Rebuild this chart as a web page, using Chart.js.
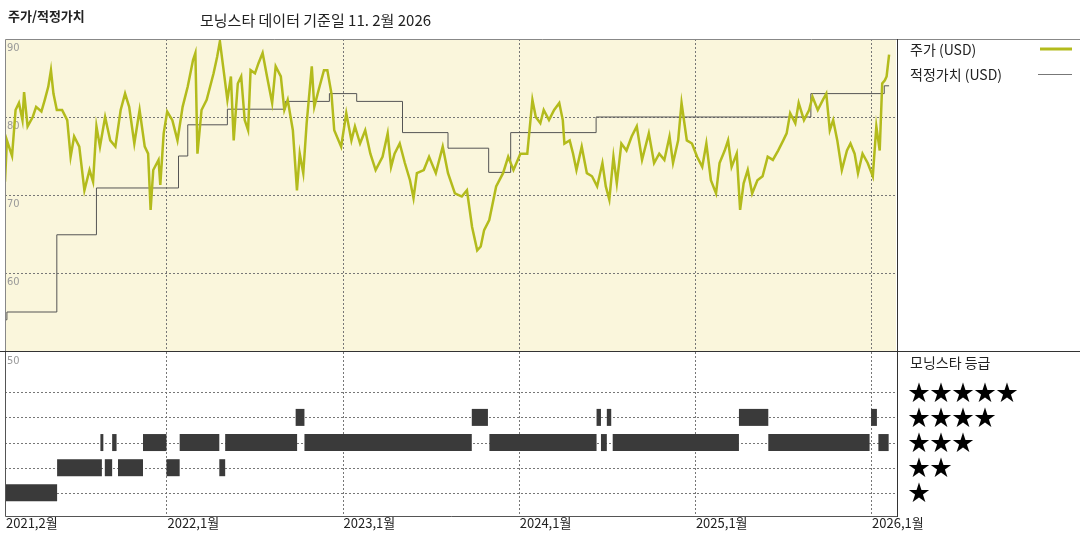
<!DOCTYPE html>
<html>
<head>
<meta charset="utf-8">
<script src="https://cdn.jsdelivr.net/npm/chart.js@4"></script>
<style>
  body { margin: 0; background: #fff; font-family: "Noto Sans CJK KR", sans-serif; }
  #wrap { position: relative; width: 1080px; height: 540px; }
  canvas { position: absolute; left: 0; }
  .txt { position: absolute; white-space: nowrap; color: #222; }
</style>
</head>
<body>
<div id="wrap">
  <canvas id="top" width="1080" height="352" style="top:0"></canvas>
  <canvas id="bottom" width="1080" height="188" style="top:352px"></canvas>
  <div class="txt" style="left:8px;top:6px;font-size:13px;font-weight:bold">주가/적정가치</div>
  <div class="txt" style="left:200px;top:9px;font-size:15px">모닝스타 데이터 기준일 11. 2월 2026</div>
  <div class="txt" style="left:910px;top:39px;font-size:14px">주가 (USD)</div>
  <div class="txt" style="left:910px;top:64px;font-size:14px">적정가치 (USD)</div>
  <div class="txt" style="left:910px;top:352px;font-size:14px">모닝스타 등급</div>
  <div class="txt" style="left:908px;top:378px;font-size:22px;line-height:25px;color:#000">★★★★★<br>★★★★<br>★★★<br>★★<br>★</div>
</div>
<script>
// x values are months since Feb 2021
const priceMonths = [0,0.13,0.48,0.72,0.95,1.19,1.3,1.54,1.89,2.12,2.48,2.71,2.95,3.13,3.3,3.53,3.89,4.24,4.47,4.71,5.06,5.41,5.76,6,6.23,6.47,6.82,7.17,7.52,7.88,8.18,8.46,8.81,9.17,9.52,9.75,9.92,10.1,10.46,10.58,10.81,11.05,11.4,11.75,12.1,12.45,12.81,12.97,13.11,13.39,13.74,14.21,14.45,14.64,14.92,15.15,15.39,15.58,15.86,16.09,16.33,16.56,16.73,17.03,17.27,17.55,17.85,18.2,18.44,18.79,19.03,19.26,19.61,19.89,20.08,20.32,20.55,20.9,21.07,21.37,21.73,21.96,22.24,22.43,22.9,23.25,23.6,23.84,24.19,24.54,24.89,25.25,25.72,26.07,26.3,26.54,26.89,27.24,27.59,27.83,28.06,28.53,28.89,29.35,29.82,30.18,30.65,31.12,31.47,31.82,32.17,32.41,32.64,32.99,33.46,33.93,34.28,34.64,35.11,35.58,35.93,36.16,36.47,36.7,37.06,37.41,37.76,38,38.11,38.47,38.7,38.93,39.29,39.64,39.99,40.34,40.7,40.93,41.17,41.45,41.68,41.99,42.34,42.69,43.04,43.4,43.86,44.22,44.57,44.92,45.27,45.51,45.86,46.09,46.45,46.8,47.15,47.5,47.78,48.09,48.44,48.68,49.03,49.26,49.5,49.85,50.08,50.32,50.6,50.9,51.26,51.61,51.96,52.31,52.67,53.02,53.25,53.49,53.84,54.07,54.43,54.78,55.01,55.37,55.72,55.95,56.19,56.42,56.7,57.01,57.36,57.6,57.88,58.11,58.42,58.77,59.12,59.36,59.59,59.76,59.94,60.06,60.23];
const priceValues = [71.7,77,75,80.9,81.8,79.6,83.2,78.8,80,81.3,80.7,82.2,83.9,86,83,80.9,80.9,79.6,74.9,77.5,76.2,70.6,73.2,71.7,78.8,76.2,80,77,76.2,80.9,83,81.3,76.6,80.9,76.2,75.3,68.1,73.2,74.5,71.3,77.9,80.7,79.6,77,81.3,83.9,87.3,88.2,75.3,80.9,82.2,85.6,87.7,89.7,85.6,82.2,85.2,77,84.3,85.2,79.6,78.3,86,85.6,86.9,88.2,85.2,81.8,86.5,85.2,80.9,82.2,78.3,70.6,75.3,72.8,79.2,86.5,81.3,83.5,86,86,83,78.3,76.2,80.5,77,78.8,76.6,78.3,75.3,73.2,74.9,77.9,73.6,75.3,76.6,74.1,71.9,69.6,72.8,73.2,74.9,72.8,76.2,72.8,70.2,69.8,70.6,65.9,62.9,63.4,65.5,66.8,71.1,72.8,74.9,73.2,75.3,75.3,82.2,80,79.2,80.9,79.6,80.9,81.8,79.6,76.6,77,75.3,73.2,76.2,72.8,72.4,71.1,74.1,71.1,69.4,74.9,71.5,76.6,75.7,77.5,78.8,74.5,77.9,74.1,75.3,74.5,77.5,74.1,77,81.8,77,76.6,74.9,73.6,76.6,71.9,70.2,74.1,75.7,77,73.6,75.3,68.1,71.5,73.2,70.2,71.9,72.4,74.9,74.5,75.7,77,77.9,80.5,79.2,81.8,79.6,80.9,82.6,80.9,82.2,83,78.3,79.6,77,73.2,75.7,76.6,75.3,72.8,75.3,74.1,72.4,78.8,75.7,84.3,84.7,85.2,88];

const fairMonths = [0,0.13,3.53,6.23,11.82,12.45,15.15,19.1,22.1,23.96,27.08,30.18,32.95,34.45,40.27,54.9,59.9,60.23];
const fairValues = [54,55,64.9,70.9,75,79,81,82,83,82,78,76,72.9,78,80,83,84,84];

const ratingStart = [0,3.55,6.8,7.7,11.0,14.6,6.5,7.3,9.4,11.9,15.0,20.4,33.0,40.6,41.4,52.0,59.5,19.8,31.8,40.3,41.0,50.0,59.0];
const ratingEnd   = [3.55,6.6,7.3,9.4,11.9,15.0,6.7,7.6,11.0,14.6,19.9,31.8,40.3,41.0,50.0,58.9,60.2,20.4,32.9,40.6,41.3,52.0,59.4];
const ratingValue = [1,2,2,2,2,2,3,3,3,3,3,3,3,3,3,3,3,4,4,4,4,4,4];

const xTickMonths = [0,11,23,35,47,59];
const xTickLabels = ['2021,2월','2022,1월','2023,1월','2024,1월','2025,1월','2026,1월'];
const priceTicks = [90,80,70,60];
const bottomTick = '50';

const X_MAX = 60.7;
const gridColor = '#777';

function vGrid(ctx, area, xs) {
  ctx.save();
  ctx.strokeStyle = gridColor; ctx.lineWidth = 1; ctx.setLineDash([2, 2]);
  xTickMonths.forEach(m => {
    const px = Math.round(xs.getPixelForValue(m)) + 0.5;
    if (m === 0) return;
    ctx.beginPath(); ctx.moveTo(px, area.top); ctx.lineTo(px, area.bottom); ctx.stroke();
  });
  ctx.restore();
}

const topPlugin = {
  id: 'topDeco',
  beforeDatasetsDraw(chart) {
    const { ctx, chartArea: a, scales } = chart;
    ctx.save();
    ctx.fillStyle = '#faf6dc';
    ctx.fillRect(a.left, a.top, a.right - a.left, a.bottom - a.top);
    vGrid(ctx, a, scales.x);
    ctx.strokeStyle = gridColor; ctx.setLineDash([2, 2]);
    [80, 70, 60].forEach(v => {
      const py = Math.round(scales.y.getPixelForValue(v)) + 0.5;
      ctx.beginPath(); ctx.moveTo(a.left, py); ctx.lineTo(a.right, py); ctx.stroke();
    });
    ctx.setLineDash([]);
    ctx.fillStyle = '#999'; ctx.font = '11px "DejaVu Sans Condensed", sans-serif';
    ctx.textBaseline = 'top';
    priceTicks.forEach(v => ctx.fillText(String(v), a.left + 2, scales.y.getPixelForValue(v) + 4));
    ctx.restore();
  },
  afterDraw(chart) {
    const { ctx, chartArea: a } = chart;
    ctx.save();
    ctx.strokeStyle = '#888'; ctx.lineWidth = 1;
    ctx.beginPath();
    ctx.moveTo(a.left + 0.5, a.bottom); ctx.lineTo(a.left + 0.5, a.top + 0.5); ctx.lineTo(1080, a.top + 0.5);
    ctx.stroke();
    ctx.strokeStyle = '#333';
    ctx.beginPath();
    ctx.moveTo(a.right + 1.5, a.top); ctx.lineTo(a.right + 1.5, 352);
    ctx.moveTo(0, 351.5); ctx.lineTo(1080, 351.5);
    ctx.stroke();
    ctx.lineWidth = 3; ctx.strokeStyle = '#b3bb1c';
    ctx.beginPath(); ctx.moveTo(1040, 49); ctx.lineTo(1072, 49); ctx.stroke();
    ctx.lineWidth = 1; ctx.strokeStyle = '#777';
    ctx.beginPath(); ctx.moveTo(1038, 74.5); ctx.lineTo(1072, 74.5); ctx.stroke();
    ctx.restore();
  }
};

const bottomPlugin = {
  id: 'bottomDeco',
  beforeDatasetsDraw(chart) {
    const { ctx, chartArea: a, scales } = chart;
    ctx.save();
    vGrid(ctx, a, scales.x);
    ctx.strokeStyle = gridColor; ctx.setLineDash([2, 2]);
    [1, 2, 3, 4, 5].forEach(v => {
      const py = Math.round(scales.y.getPixelForValue(v)) + 0.5;
      ctx.beginPath(); ctx.moveTo(a.left, py); ctx.lineTo(a.right, py); ctx.stroke();
    });
    ctx.setLineDash([]);
    ctx.fillStyle = '#999'; ctx.font = '11px "DejaVu Sans Condensed", sans-serif';
    ctx.textBaseline = 'top';
    ctx.fillText(bottomTick, a.left + 2, a.top + 4);
    ctx.restore();
  },
  afterDraw(chart) {
    const { ctx, chartArea: a, scales } = chart;
    ctx.save();
    ctx.strokeStyle = '#555'; ctx.lineWidth = 1;
    ctx.beginPath();
    ctx.moveTo(a.left + 0.5, a.top); ctx.lineTo(a.left + 0.5, a.bottom + 0.5); ctx.lineTo(a.right + 2, a.bottom + 0.5);
    ctx.stroke();
    ctx.strokeStyle = '#333';
    ctx.beginPath(); ctx.moveTo(a.right + 1.5, 0); ctx.lineTo(a.right + 1.5, a.bottom + 1); ctx.stroke();
    ctx.fillStyle = '#222'; ctx.font = '13px "Noto Sans CJK KR", sans-serif';
    ctx.textBaseline = 'top';
    xTickMonths.forEach((m, i) => ctx.fillText(xTickLabels[i], scales.x.getPixelForValue(m) + 1, a.bottom + 1));
    ctx.restore();
  }
};

const xScale = { type: 'linear', min: 0, max: X_MAX, display: false };

new Chart(document.getElementById('top'), {
  type: 'line',
  data: {
    datasets: [
      {
        label: '주가 (USD)',
        data: priceMonths.map((m, i) => ({ x: m, y: priceValues[i] })),
        borderColor: '#b3bb1c', borderWidth: 2.5, pointRadius: 0, tension: 0
      },
      {
        label: '적정가치 (USD)',
        data: fairMonths.map((m, i) => ({ x: m, y: fairValues[i] })),
        borderColor: '#555', borderWidth: 1, pointRadius: 0, stepped: 'before'
      }
    ]
  },
  options: {
    responsive: false, animation: false,
    layout: { padding: { left: 5, right: 184, top: 39, bottom: 1 } },
    scales: { x: xScale, y: { min: 50, max: 90, display: false } },
    plugins: { legend: { display: false }, tooltip: { enabled: false } }
  },
  plugins: [topPlugin]
});

new Chart(document.getElementById('bottom'), {
  type: 'line',
  data: {
    datasets: ratingValue.map((r, i) => ({
      data: [{ x: ratingStart[i], y: r }, { x: ratingEnd[i], y: r }],
      borderColor: '#3a3a3a', borderWidth: 17, borderCapStyle: 'butt', pointRadius: 0
    }))
  },
  options: {
    responsive: false, animation: false,
    layout: { padding: { left: 5, right: 184, top: 0, bottom: 24 } },
    scales: { x: xScale, y: { min: 0.08, max: 6.6, display: false } },
    plugins: { legend: { display: false }, tooltip: { enabled: false } }
  },
  plugins: [bottomPlugin]
});
</script>
</body>
</html>
